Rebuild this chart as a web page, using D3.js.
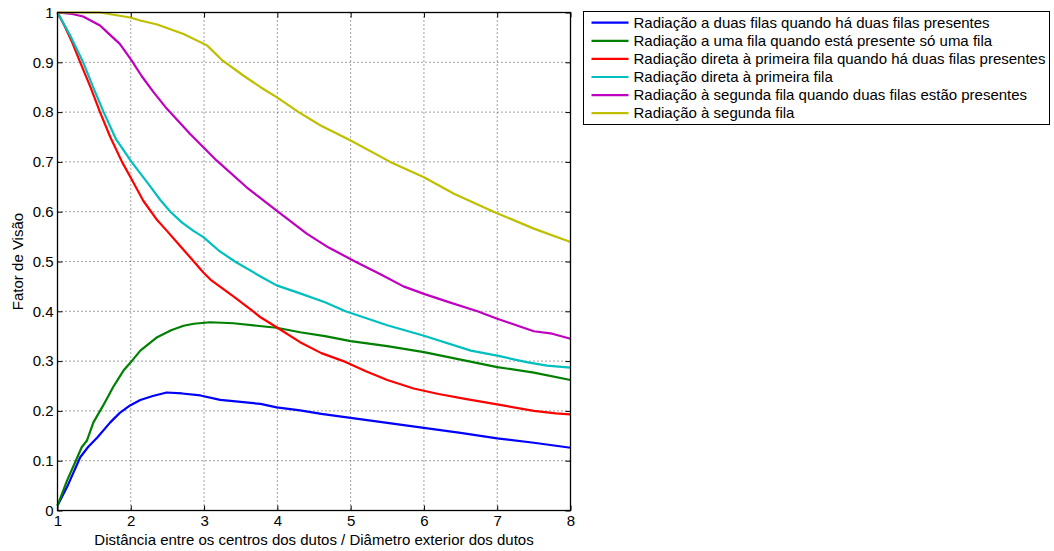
<!DOCTYPE html>
<html>
<head>
<meta charset="utf-8">
<script src="https://cdn.jsdelivr.net/npm/d3@7"></script>
<style>
  html, body { margin: 0; padding: 0; background: #fff; }
  svg { display: block; font-family: "Liberation Sans", Arial, sans-serif; }
</style>
</head>
<body>
<svg id="chart" width="1054" height="551"></svg>
<script>
// View factor curves versus pitch ratio (centre distance / outer diameter)
const xTicks = [1, 2, 3, 4, 5, 6, 7, 8];
const yTicks = [0, 0.1, 0.2, 0.3, 0.4, 0.5, 0.6, 0.7, 0.8, 0.9, 1];
const yTickLabels = ["0", "0.1", "0.2", "0.3", "0.4", "0.5", "0.6", "0.7", "0.8", "0.9", "1"];

const seriesNames = [
  "Radiação a duas filas quando há duas filas presentes",
  "Radiação a uma fila quando está presente só uma fila",
  "Radiação direta à primeira fila quando há duas filas presentes",
  "Radiação direta à primeira fila",
  "Radiação à segunda fila quando duas filas estão presentes",
  "Radiação à segunda fila"
];
const seriesColors = ["#0000ff", "#008000", "#ff0000", "#00bfbf", "#bf00bf", "#bfbf00"];

// [x, view factor] pairs per series
const duasFilas = [
  [1.0, 0.01], [1.13, 0.047], [1.31, 0.107], [1.42, 0.128], [1.54, 0.146], [1.72, 0.177],
  [1.85, 0.196], [1.99, 0.211], [2.13, 0.222], [2.3, 0.23], [2.49, 0.237], [2.7, 0.235],
  [2.95, 0.231], [3.22, 0.222], [3.5, 0.218], [3.77, 0.214], [3.99, 0.207], [4.31, 0.201],
  [4.6, 0.194], [5.0, 0.186], [5.5, 0.176], [6.0, 0.166], [6.5, 0.156], [7.0, 0.145],
  [7.5, 0.136], [8.0, 0.126]
];
const umaFila = [
  [1.0, 0.01], [1.13, 0.06], [1.25, 0.1], [1.33, 0.127], [1.4, 0.14], [1.49, 0.177],
  [1.62, 0.21], [1.76, 0.248], [1.9, 0.281], [1.99, 0.296], [2.13, 0.321], [2.36, 0.348],
  [2.55, 0.362], [2.72, 0.371], [2.86, 0.375], [3.08, 0.378], [3.4, 0.376], [3.72, 0.371],
  [3.99, 0.367], [4.31, 0.358], [4.65, 0.35], [5.0, 0.34], [5.5, 0.33], [6.0, 0.318],
  [6.5, 0.303], [7.0, 0.288], [7.5, 0.277], [8.0, 0.262]
];
const diretaPrimeiraDuas = [
  [1.0, 1.0], [1.1, 0.972], [1.2, 0.94], [1.31, 0.9], [1.45, 0.85], [1.58, 0.8],
  [1.72, 0.75], [1.88, 0.7], [2.0, 0.668], [2.17, 0.622], [2.35, 0.585], [2.49, 0.562],
  [2.65, 0.535], [2.86, 0.5], [2.99, 0.478], [3.1, 0.462], [3.4, 0.43], [3.67, 0.4],
  [3.77, 0.388], [3.99, 0.368], [4.31, 0.338], [4.6, 0.316], [4.9, 0.3], [5.2, 0.28],
  [5.5, 0.262], [5.86, 0.245], [6.2, 0.234], [6.6, 0.223], [7.0, 0.213], [7.5, 0.2],
  [7.8, 0.195], [8.0, 0.193]
];
const diretaPrimeira = [
  [1.0, 1.0], [1.17, 0.955], [1.35, 0.9], [1.5, 0.845], [1.63, 0.8], [1.8, 0.745],
  [2.01, 0.7], [2.13, 0.677], [2.26, 0.652], [2.4, 0.624], [2.54, 0.6], [2.7, 0.578],
  [2.85, 0.562], [2.99, 0.549], [3.2, 0.522], [3.42, 0.5], [3.77, 0.47], [3.99, 0.452],
  [4.31, 0.436], [4.65, 0.418], [4.93, 0.4], [5.5, 0.372], [6.0, 0.351], [6.64, 0.321],
  [7.0, 0.311], [7.4, 0.298], [7.68, 0.291], [8.0, 0.287]
];
const segundaDuas = [
  [1.0, 1.0], [1.2, 0.997], [1.35, 0.992], [1.58, 0.974], [1.68, 0.96], [1.85, 0.937],
  [2.01, 0.904], [2.15, 0.872], [2.31, 0.84], [2.49, 0.807], [2.81, 0.756], [3.17, 0.703],
  [3.58, 0.649], [3.99, 0.602], [4.4, 0.556], [4.7, 0.528], [5.06, 0.5], [5.4, 0.475],
  [5.72, 0.45], [6.0, 0.435], [6.35, 0.418], [6.73, 0.4], [7.0, 0.385], [7.3, 0.37],
  [7.5, 0.36], [7.75, 0.355], [8.0, 0.345]
];
const segunda = [
  [1.0, 1.0], [1.58, 1.0], [1.99, 0.99], [2.13, 0.984], [2.36, 0.976], [2.72, 0.957],
  [3.04, 0.934], [3.24, 0.905], [3.54, 0.873], [3.77, 0.850], [3.99, 0.830], [4.29, 0.8],
  [4.59, 0.773], [5.0, 0.743], [5.54, 0.7], [6.0, 0.669], [6.41, 0.636], [6.95, 0.6],
  [7.5, 0.566], [8.0, 0.539]
];
const seriesData = [duasFilas, umaFila, diretaPrimeiraDuas, diretaPrimeira, segundaDuas, segunda];

const xLabel = "Distância entre os centros dos dutos / Diâmetro exterior dos dutos";
const yLabel = "Fator de Visão";

const svg = d3.select("#chart");
const plot = { left: 57.5, right: 570.5, top: 12.5, bottom: 510.5 };
const fontSize = 15;

const x = d3.scaleLinear().domain([1, 8]).range([plot.left, plot.right]);
const y = d3.scaleLinear().domain([0, 1]).range([plot.bottom, plot.top]);

// dotted grid
const grid = svg.append("g");
grid.selectAll("line.gx").data(xTicks.slice(1, -1)).join("line")
  .attr("x1", d => x(d)).attr("x2", d => x(d))
  .attr("y1", plot.top).attr("y2", plot.bottom)
  .attr("stroke", "#444").attr("stroke-width", 1).attr("stroke-dasharray", "1,3");
grid.selectAll("line.gy").data(yTicks.slice(1, -1)).join("line")
  .attr("x1", plot.left).attr("x2", plot.right)
  .attr("y1", d => y(d)).attr("y2", d => y(d))
  .attr("stroke", "#444").attr("stroke-width", 1).attr("stroke-dasharray", "1,3");

// axes with inward ticks on all four sides
const tickLen = 5;
const fmtY = (d, i) => yTickLabels[i];
const axB = svg.append("g").attr("transform", `translate(0,${plot.bottom})`)
  .call(d3.axisBottom(x).tickValues(xTicks).tickSizeInner(-tickLen).tickSizeOuter(0).tickPadding(5).tickFormat(d3.format("d")));
const axL = svg.append("g").attr("transform", `translate(${plot.left},0)`)
  .call(d3.axisLeft(y).tickValues(yTicks).tickSizeInner(-tickLen).tickSizeOuter(0).tickPadding(4).tickFormat(fmtY));
const axT = svg.append("g").attr("transform", `translate(0,${plot.top})`)
  .call(d3.axisTop(x).tickValues(xTicks).tickSizeInner(-tickLen).tickSizeOuter(0).tickFormat(""));
const axR = svg.append("g").attr("transform", `translate(${plot.right},0)`)
  .call(d3.axisRight(y).tickValues(yTicks).tickSizeInner(-tickLen).tickSizeOuter(0).tickFormat(""));
[axB, axL, axT, axR].forEach(g => {
  g.select(".domain").remove();
  g.selectAll(".tick line").attr("stroke", "#000");
  g.selectAll("text").attr("font-size", fontSize).attr("fill", "#000")
    .attr("font-family", "'Liberation Sans', Arial, sans-serif");
});

// series lines
const line = d3.line().x(d => x(d[0])).y(d => y(d[1]));
svg.append("g").selectAll("path").data(seriesData).join("path")
  .attr("d", line)
  .attr("fill", "none")
  .attr("stroke", (d, i) => seriesColors[i])
  .attr("stroke-width", 2.2)
  .attr("stroke-linejoin", "round");

// axes box
svg.append("rect")
  .attr("x", plot.left).attr("y", plot.top)
  .attr("width", plot.right - plot.left).attr("height", plot.bottom - plot.top)
  .attr("fill", "none").attr("stroke", "#000").attr("stroke-width", 1.3);

// axis labels
svg.append("text")
  .attr("x", (plot.left + plot.right) / 2).attr("y", 545)
  .attr("text-anchor", "middle").attr("font-size", fontSize).text(xLabel);
svg.append("text")
  .attr("transform", `translate(23,${(plot.top + plot.bottom) / 2}) rotate(-90)`)
  .attr("text-anchor", "middle").attr("font-size", fontSize).text(yLabel);

// legend
const lg = svg.append("g");
lg.append("rect")
  .attr("x", 583.5).attr("y", 11.5).attr("width", 466).attr("height", 113)
  .attr("fill", "#fff").attr("stroke", "#000").attr("stroke-width", 1);
const rows = lg.selectAll("g.row").data(seriesNames).join("g")
  .attr("transform", (d, i) => `translate(0,${22.7 + i * 18.1})`);
rows.append("line")
  .attr("x1", 591.5).attr("x2", 628.5).attr("y1", 0).attr("y2", 0)
  .attr("stroke", (d, i) => seriesColors[i]).attr("stroke-width", 2.2);
rows.append("text")
  .attr("x", 633.5).attr("y", 0).attr("dy", "0.35em")
  .attr("font-size", fontSize).text(d => d);
</script>
</body>
</html>
